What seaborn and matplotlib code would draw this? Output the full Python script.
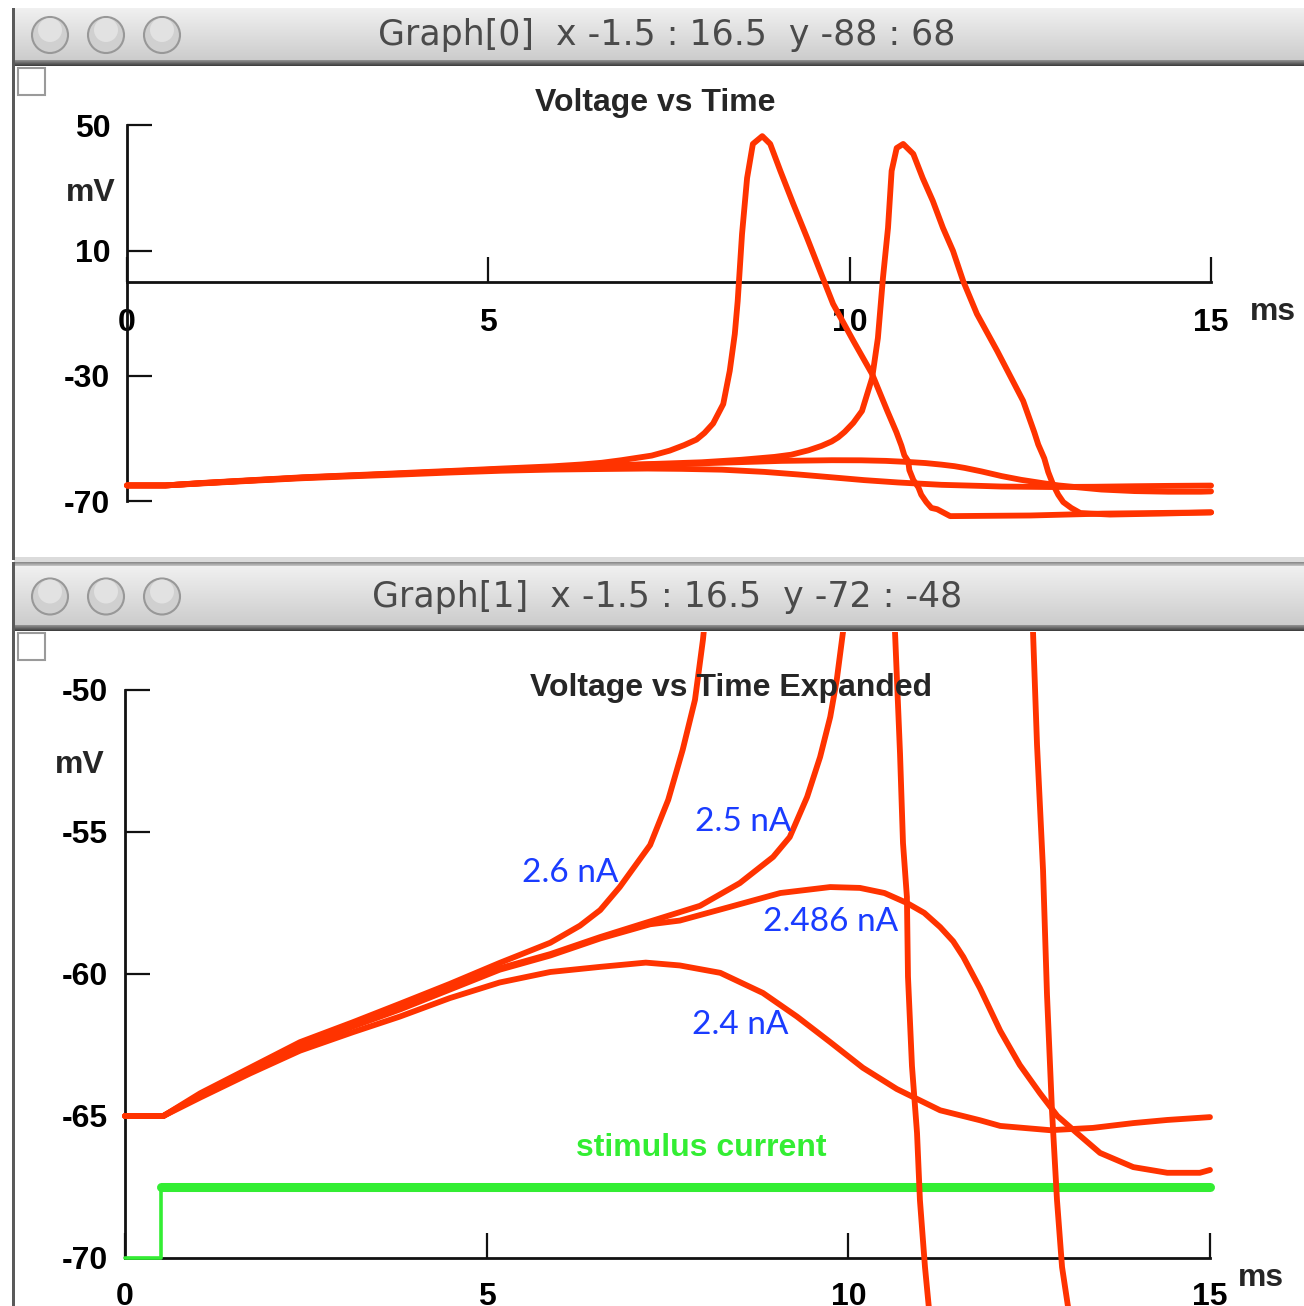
import pandas as pd
import matplotlib.pyplot as plt
from matplotlib.patches import Rectangle, Circle
import seaborn as sns

# membrane potential (mV) vs time (ms), one trace per stimulus amplitude
t_24 = [0, 0.5, 0.53, 1.04, 1.73, 2.42, 3.15, 3.8, 4.49, 5.18, 5.88, 6.57, 7.2, 7.67, 8.23, 8.82, 9.29, 9.75,
        10.2, 10.67, 11.27, 11.82, 12.1, 12.79, 13.38, 13.94, 14.41, 15.0]
v_24 = [-65, -65, -65.0, -64.35, -63.5, -62.7, -62.05, -61.5, -60.85, -60.3, -59.93, -59.75, -59.6, -59.7, -59.96,
        -60.67, -61.5, -62.4, -63.3, -64.05, -64.8, -65.15, -65.35, -65.5, -65.42, -65.25, -65.14, -65.04]

t_2486 = [0, 0.5, 0.53, 1.04, 1.73, 2.42, 3.15, 3.8, 4.49, 5.18, 5.88, 6.57, 7.26, 7.67, 8.36, 9.06, 9.75, 10.16,
          10.5, 10.81, 11.05, 11.27, 11.45, 11.59, 11.82, 12.1, 12.37, 12.65, 12.89, 13.16, 13.48,
          13.94, 14.41, 14.86, 15.0]
v_2486 = [-65, -65, -65.0, -64.28, -63.4, -62.55, -61.85, -61.25, -60.55, -59.85, -59.35, -58.75, -58.25, -58.12,
          -57.64, -57.15, -56.94, -56.97, -57.15, -57.5, -57.85, -58.35, -58.85, -59.4, -60.5, -62.0, -63.2, -64.2,
          -65.0, -65.6, -66.3, -66.8, -67.0, -67.0, -66.9]

t_25 = [0, 0.5, 0.53, 1.04, 1.73, 2.42, 3.15, 3.8, 4.49, 5.18, 5.88, 6.57, 7.26, 7.95, 8.5, 8.96, 9.19, 9.43, 9.61,
        9.75, 9.84, 9.93, 10.05, 10.17, 10.31, 10.39, 10.46, 10.53, 10.58, 10.65, 10.74, 10.88, 11.01,
        11.15, 11.29, 11.43, 11.57, 11.76, 12.04, 12.4, 12.554, 12.609, 12.692, 12.747, 12.816,
        12.885, 12.955, 13.065, 13.19, 13.6, 14.3, 15.0]
v_25 = [-65, -65, -65.0, -64.25, -63.38, -62.5, -61.8, -61.2, -60.5, -59.8, -59.3, -58.7, -58.15, -57.6, -56.8,
        -55.88, -55.18, -53.77, -52.36, -50.95, -49.65, -47.89, -45.0, -41.2, -30.7, -17.9, 1.3, 17.3, 35.5, 42.8,
        44.1, 40.9, 33.2, 25.9, 17.3, 9.9, 0.3, -10.2, -22.0, -38.0, -47.99, -51.94, -56.34, -60.74, -64.82,
        -67.96, -70.32, -72.18, -73.8, -74.3, -74.0, -73.6]

t_26 = [0, 0.5, 0.53, 1.04, 1.73, 2.42, 3.15, 3.8, 4.49, 5.18, 5.88, 6.29, 6.57, 6.84, 7.05, 7.26, 7.51, 7.71, 7.88,
        7.99, 8.11, 8.25, 8.34, 8.41, 8.45, 8.51, 8.58, 8.66, 8.79, 8.9, 9.04, 9.22, 9.41, 9.59, 9.77,
        10.05, 10.31, 10.52, 10.646, 10.715, 10.756, 10.81, 10.825, 10.88, 10.95, 10.99, 11.06,
        11.13, 11.21, 11.39, 12.5, 13.5, 15.0]
v_26 = [-65, -65, -65.0, -64.2, -63.3, -62.4, -61.7, -61.05, -60.35, -59.61, -58.9, -58.3, -57.75, -56.94, -56.2,
        -55.46, -53.87, -52.11, -50.35, -48.24, -45.2, -39.0, -28.4, -16.6, -6.1, 15.3, 33.2, 44.1, 46.6, 44.1,
        35.5, 24.9, 14.1, 3.5, -7.0, -18.8, -29.4, -41.2, -47.99, -52.25, -55.39, -57.29, -60.1, -63.24, -65.6,
        -67.96, -70.32, -72.18, -72.6, -74.8, -74.6, -74.0, -73.6]

# stimulus current, drawn on the mV scale of the expanded graph
stim_t = [0, 0.5, 0.5, 15]
stim_v = [-70, -70, -67.5, -67.5]

labels = ['2.4 nA', '2.486 nA', '2.5 nA', '2.6 nA']
label_t = [7.84, 8.82, 7.88, 5.49]
label_v = [-61.8, -58.17, -54.65, -56.44]

traces = pd.concat([
    pd.DataFrame({'t': t, 'v': v, 'current': lab})
    for t, v, lab in zip([t_24, t_2486, t_25, t_26], [v_24, v_2486, v_25, v_26], labels)
])
stim = pd.DataFrame({'t': stim_t, 'v': stim_v})

RED = '#ff3300'
GREEN = '#33ee33'
BLUE = '#1a3cff'
W, H = 1304, 1306

sns.set_style('white')
plt.rcParams['font.family'] = ['Liberation Sans', 'DejaVu Sans']
plt.rcParams['axes.unicode_minus'] = False

fig = plt.figure(figsize=(W / 100, H / 100), dpi=100)

# window chrome, drawn in pixel coordinates
bg = fig.add_axes([0, 0, 1, 1])
bg.set_zorder(-1)
bg.set_xlim(0, W)
bg.set_ylim(H, 0)
bg.axis('off')


def blend(c0, c1, f):
    return tuple(a + (b - a) * f for a, b in zip(c0, c1))


def strips(y0, y1, c0, c1):
    n = y1 - y0
    for i in range(n):
        col = blend(c0, c1, i / max(n - 1, 1))
        bg.add_patch(Rectangle((14, y0 + i), W - 14, 1.05, color=col, lw=0))


def title_bar(y0, y1, text):
    strips(y0, y1, (0.94, 0.94, 0.94), (0.80, 0.80, 0.80))
    strips(y1, y1 + 6, (0.55, 0.55, 0.55), (0.25, 0.25, 0.25))
    yc = (y0 + y1) / 2
    for xc in [50, 106, 162]:
        bg.add_patch(Circle((xc, yc + 1), 18, fc='#d0d0d0', ec='#989898', lw=1.5))
        bg.add_patch(Circle((xc, yc - 4), 12, fc='#e2e2e2', ec='none'))
    bg.text(667, yc + 1, text, ha='center', va='center', fontsize=25,
            color='#4a4a4a', family='DejaVu Sans')


title_bar(8, 60, 'Graph[0]  x -1.5 : 16.5  y -88 : 68')
strips(557, 562, (0.86, 0.86, 0.86), (0.86, 0.86, 0.86))
strips(562, 566, (0.55, 0.55, 0.55), (0.75, 0.75, 0.75))
title_bar(566, 625, 'Graph[1]  x -1.5 : 16.5  y -72 : -48')
bg.add_patch(Rectangle((12, 8), 3, 552, color='#5a5a5a', lw=0))
bg.add_patch(Rectangle((12, 562), 3, H - 562, color='#5a5a5a', lw=0))

# plot areas
ax1 = fig.add_axes([16 / W, 1 - 557 / H, (W - 16) / W, (557 - 67) / H])
ax2 = fig.add_axes([16 / W, 0, (W - 16) / W, (H - 632) / H])

for ax in [ax1, ax2]:
    sns.lineplot(data=traces, x='t', y='v', units='current', estimator=None, sort=False,
                 color=RED, lw=4.2, legend=False, ax=ax, zorder=3)

sns.lineplot(data=stim, x='t', y='v', estimator=None, sort=False, color=GREEN, lw=2.6,
             legend=False, ax=ax2, zorder=2)
sns.lineplot(data=stim[stim['v'] > -70], x='t', y='v', estimator=None, sort=False,
             color=GREEN, lw=6.5, legend=False, ax=ax2, zorder=2)
for lab, lt, lv in zip(labels, label_t, label_v):
    ax2.text(lt, lv, lab, ha='left', va='center', color=BLUE, fontsize=24, family='Lato')

ax1.set_xlim(-1.536, 16.286)
ax1.set_ylim(-87.86, 68.69)
ax2.set_xlim(-1.507, 16.30)
ax2.set_ylim(-71.69, -47.96)

ax1.set_xticks([0, 5, 10, 15])
ax1.set_yticks([50, 10, -30, -70])
ax2.set_xticks([0, 5, 10, 15])
ax2.set_yticks([-50, -55, -60, -65, -70])

for ax, y0, ybounds, xpad in [(ax1, 0, (-70, 50), 19), (ax2, -70, (-70, -50), 17)]:
    ax.set_facecolor('white')
    ax.spines['top'].set_visible(False)
    ax.spines['right'].set_visible(False)
    ax.spines['left'].set_position(('data', 0))
    ax.spines['bottom'].set_position(('data', y0))
    ax.spines['left'].set_bounds(*ybounds)
    ax.spines['bottom'].set_bounds(0, 15)
    for s in ['left', 'bottom']:
        ax.spines[s].set_linewidth(2)
        ax.spines[s].set_color('#111111')
        ax.spines[s].set_zorder(1)
    ax.tick_params(axis='both', which='major', left=True, bottom=True, direction='in',
                   length=18, width=1.6, color='#111111', labelsize=23, labelcolor='black')
    ax.tick_params(axis='y', pad=12)
    ax.tick_params(axis='x', pad=xpad)
    for lbl in ax.get_xticklabels() + ax.get_yticklabels():
        lbl.set_fontweight('bold')
    ax.set_xlabel('')
    ax.set_ylabel('')

# texts in pixel coordinates
fig.text(655, 103, 'Voltage vs Time', transform=bg.transData, ha='center', va='center',
         fontsize=23, fontweight='bold')
fig.text(91, 193, 'mV', transform=bg.transData, ha='center', va='center', fontsize=23, fontweight='bold')
fig.text(1250, 312, 'ms', transform=bg.transData, ha='left', va='center', fontsize=23, fontweight='bold')
fig.text(731, 688, 'Voltage vs Time Expanded', transform=bg.transData, ha='center', va='center',
         fontsize=23, fontweight='bold')
fig.text(80, 765, 'mV', transform=bg.transData, ha='center', va='center', fontsize=23, fontweight='bold')
fig.text(1238, 1278, 'ms', transform=bg.transData, ha='left', va='center', fontsize=23, fontweight='bold')
fig.text(701, 1148, 'stimulus current', transform=bg.transData, ha='center', va='center',
         fontsize=23, fontweight='bold', color=GREEN)

for y in [68, 633]:
    fig.add_artist(Rectangle((18, y), 27, 27, fc='white', ec='#9a9a9a', lw=1.5, transform=bg.transData))

fig.savefig('out.png', dpi=100)
